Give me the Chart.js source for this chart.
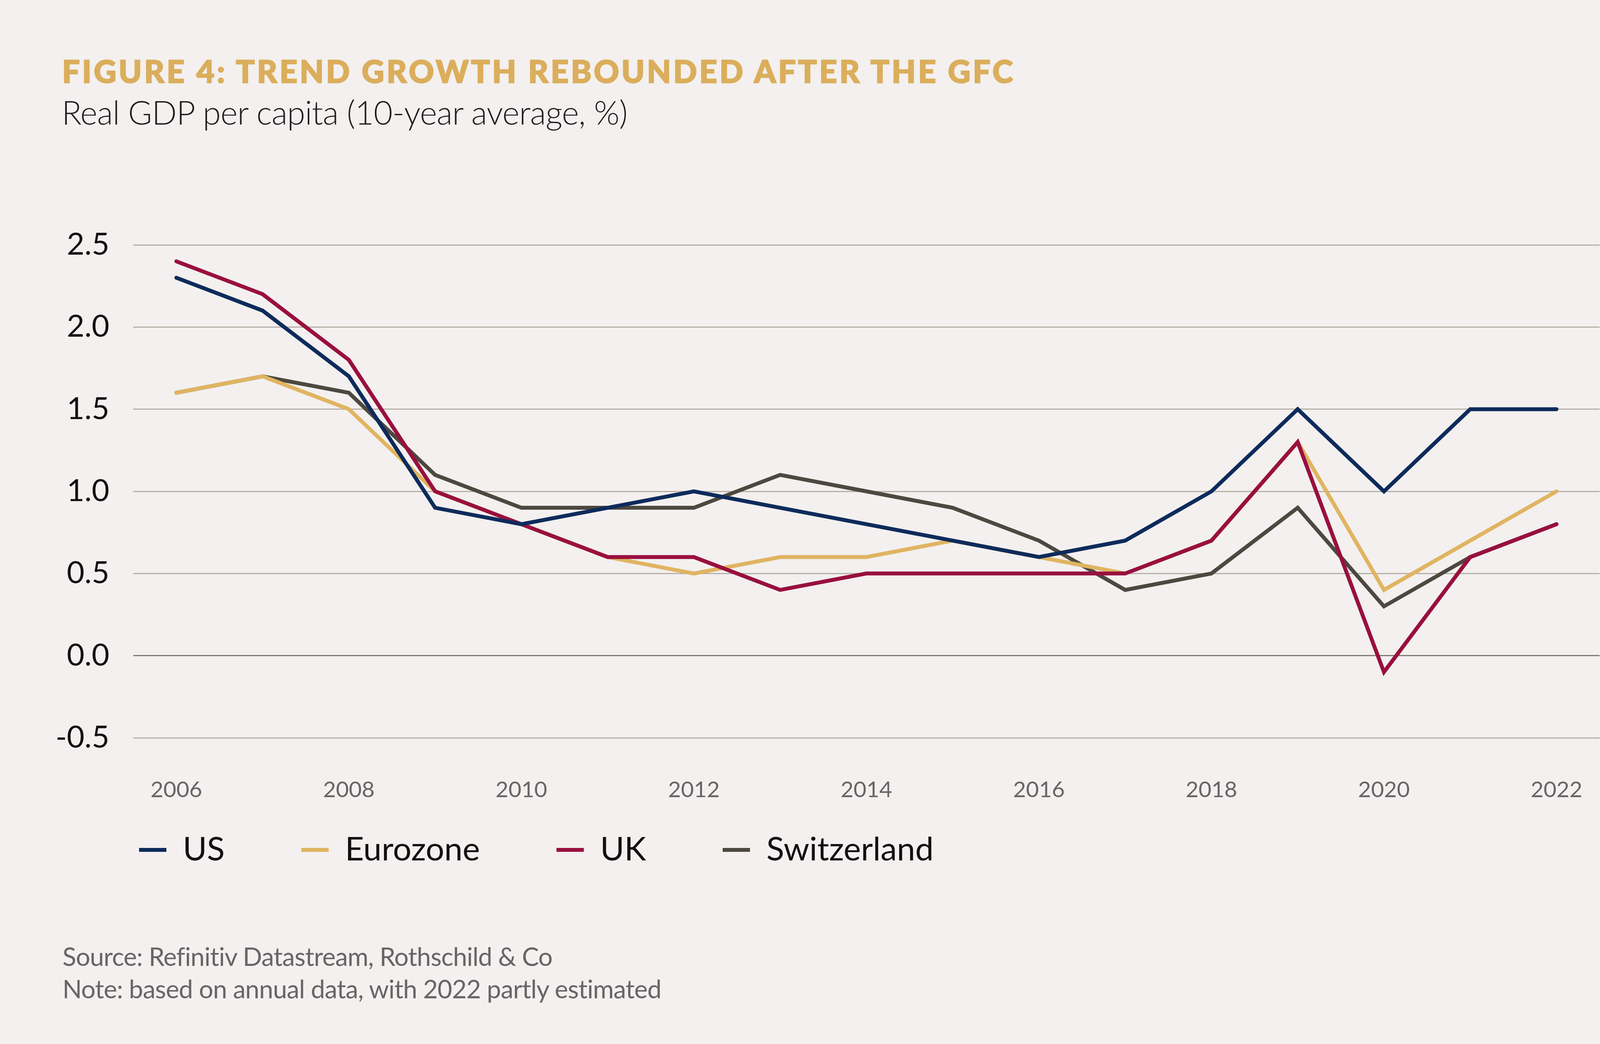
<!DOCTYPE html>
<html>
<head>
<meta charset="utf-8">
<title>Figure 4: Trend growth rebounded after the GFC</title>
<script src="https://cdn.jsdelivr.net/npm/chart.js"></script>
<style>
  html, body { margin: 0; padding: 0; background: #F3F0EF; }
  body { width: 4224px; height: 2673px; position: relative; overflow: hidden; font-family: Lato, sans-serif; }
  #chartBox { position: absolute; left: 0; top: 0; width: 4224px; height: 2673px; }
  .txt { position: absolute; white-space: nowrap; line-height: 1; }
  #title { left: 159px; top: 141px; font-size: 80px; font-weight: 900; color: #DBAE5C; -webkit-text-stroke: 2.5px #DBAE5C; }
  #subtitle { left: 158px; top: 245px; font-size: 84px; font-weight: 300; color: #1E1E1E; }
  .note { left: 160px; font-size: 65px; color: #666; }
</style>
</head>
<body>
<div id="chartBox"><canvas id="growthChart" width="4224" height="2673"></canvas></div>
<div id="title" class="txt" data-w="2440">FIGURE 4: TREND GROWTH REBOUNDED AFTER THE GFC</div>
<div id="subtitle" class="txt" data-w="1448">Real GDP per capita (10-year average, %)</div>
<div class="txt note" style="top: 2416px;" data-w="1254">Source: Refinitiv Datastream, Rothschild &amp; Co</div>
<div class="txt note" style="top: 2499px;" data-w="1534">Note: based on annual data, with 2022 partly estimated</div>

<script>
// data
const years = ['2006', '2007', '2008', '2009', '2010', '2011', '2012', '2013', '2014',
               '2015', '2016', '2017', '2018', '2019', '2020', '2021', '2022'];
const yearTicks = ['2006', '2008', '2010', '2012', '2014', '2016', '2018', '2020', '2022'];
const yTicks = [-0.5, 0, 0.5, 1, 1.5, 2, 2.5];

const seriesNames = ['US', 'Eurozone', 'UK', 'Switzerland'];
const usValues = [2.3, 2.1, 1.7, 0.9, 0.8, 0.9, 1.0, 0.9, 0.8, 0.7, 0.6, 0.7, 1.0, 1.5, 1.0, 1.5, 1.5];
const eurozoneValues = [1.6, 1.7, 1.5, 1.0, 0.8, 0.6, 0.5, 0.6, 0.6, 0.7, 0.6, 0.5, 0.7, 1.3, 0.4, 0.7, 1.0];
const ukValues = [2.4, 2.2, 1.8, 1.0, 0.8, 0.6, 0.6, 0.4, 0.5, 0.5, 0.5, 0.5, 0.7, 1.3, -0.1, 0.6, 0.8];
const switzerlandValues = [1.6, 1.7, 1.6, 1.1, 0.9, 0.9, 0.9, 1.1, 1.0, 0.9, 0.7, 0.4, 0.5, 0.9, 0.3, 0.6, 0.8];

const seriesColors = ['#0D2B5B', '#E0B461', '#99103F', '#4D4840'];
const drawOrder = [0, 2, 1, 3]; // lower = drawn on top

// stretch the text blocks to the widths of the original
document.querySelectorAll('[data-w]').forEach(el => {
    const target = parseFloat(el.dataset.w);
    const w = el.getBoundingClientRect().width;
    el.style.letterSpacing = ((target - w) / el.textContent.length) + 'px';
});

Chart.defaults.font.family = 'Lato';

// the legend sits just under the year labels, starting near the plot's left edge
const legendPlace = {
    id: 'legendPlace',
    afterLayout(chart) {
        const lg = chart.legend;
        const dx = 160 - lg.left;
        const dy = chart.chartArea.bottom + 49 - lg.top;
        lg.left += dx; lg.right += dx;
        lg.top += dy; lg.bottom += dy;
    }
};

const allValues = [usValues, eurozoneValues, ukValues, switzerlandValues];
const datasets = seriesNames.map((name, i) => ({
    label: name,
    data: allValues[i],
    borderColor: seriesColors[i],
    backgroundColor: seriesColors[i],
    borderWidth: 10,
    borderCapStyle: 'round',
    borderJoinStyle: 'miter',
    pointRadius: 0,
    tension: 0,
    order: drawOrder[i]
}));

const ctx = document.getElementById('growthChart').getContext('2d');
new Chart(ctx, {
    type: 'line',
    data: { labels: years, datasets: datasets },
    plugins: [legendPlace],
    options: {
        responsive: false,
        animation: false,
        devicePixelRatio: 1,
        layout: { padding: { top: 627, right: 129, bottom: 314, left: 100 } },
        plugins: {
            legend: {
                position: 'bottom',
                align: 'start',
                labels: {
                    usePointStyle: true,
                    pointStyle: 'line',
                    pointStyleWidth: 70,
                    padding: 196,
                    color: '#111',
                    font: { size: 84 },
                    sort: (a, b) => a.datasetIndex - b.datasetIndex
                }
            },
            tooltip: { enabled: false }
        },
        scales: {
            x: {
                offset: true,
                grid: { display: false, drawTicks: false },
                border: { display: false },
                ticks: {
                    autoSkip: false,
                    maxRotation: 0,
                    padding: 99,
                    color: '#666',
                    font: { size: 57 },
                    callback: (v, i) => yearTicks.includes(years[i]) ? years[i] : ''
                },
                afterFit: scale => { scale.height = 180; }
            },
            y: {
                min: -0.5,
                max: 2.5,
                border: { display: false },
                grid: {
                    drawTicks: false,
                    lineWidth: 3,
                    color: c => c.tick && c.tick.value === 0 ? '#807973' : '#B7B0A9'
                },
                ticks: {
                    padding: 61,
                    color: '#111',
                    font: { size: 78 },
                    callback: v => v.toFixed(1)
                },
                afterBuildTicks: scale => { scale.ticks = yTicks.map(v => ({ value: v })); },
                afterFit: scale => { scale.width = 241; }
            }
        }
    }
});
</script>
</body>
</html>
